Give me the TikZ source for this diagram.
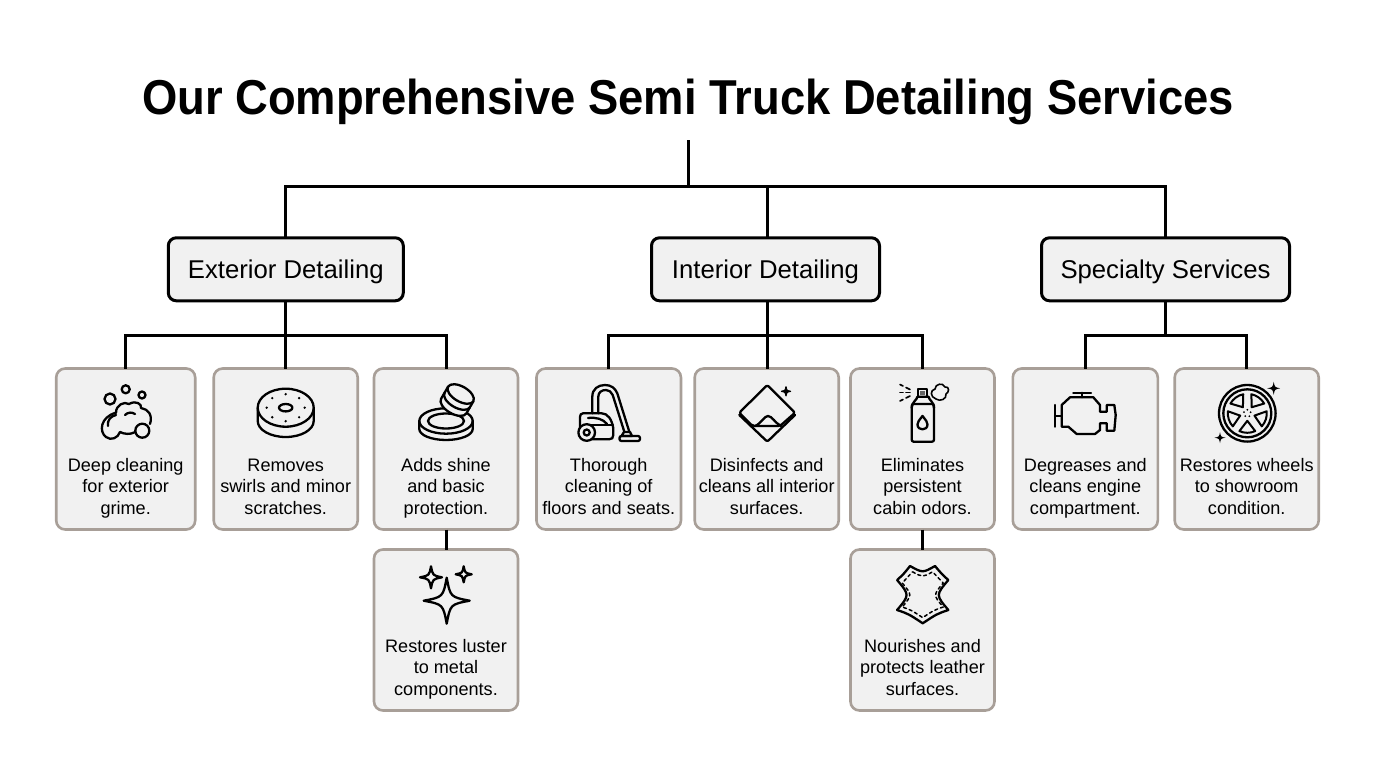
\documentclass[tikz,border=0pt]{standalone}
\usepackage{fontspec}
\setmainfont{Liberation Sans}
\definecolor{boxfill}{HTML}{F1F1F1}
\definecolor{leafline}{HTML}{A89F98}
\tikzstyle{head} = [rectangle, rounded corners=8pt, draw=black, line width=3pt, fill=boxfill, outer sep=0pt, minimum height=63pt, text height=22pt, text depth=4pt, font=\fontsize{25.7}{30}\selectfont]
\tikzstyle{leaf} = [rectangle, rounded corners=9pt, draw=leafline, line width=2.6pt, fill=boxfill, outer sep=0pt, minimum height=161pt]
\tikzstyle{txt} = [align=center, inner sep=0pt, anchor=base, font=\fontsize{18.1}{21.4}\selectfont]
\tikzstyle{conn} = [draw=black, line width=3pt]
\tikzstyle{icon} = [draw=black, line width=2.3pt, line join=round, line cap=round]
\tikzset{
	sparkle/.pic={\path[pic actions] (0,-1) .. controls (.16,-.16) .. (1,0) .. controls (.16,.16) .. (0,1) .. controls (-.16,.16) .. (-1,0) .. controls (-.16,-.16) .. (0,-1) -- cycle;},
	hide/.pic={\path[pic actions] (-12.7,-29) .. controls (0,-22) .. (12.3,-29) .. controls (19,-21) .. (25.6,-15) .. controls (13,0) .. (25.6,15) .. controls (14,19) .. (0,28.3) .. controls (-14,19) .. (-25.6,15) .. controls (-13,0) .. (-25.6,-15) .. controls (-19,-21) .. (-12.7,-29) -- cycle;}
}

\begin{document}
\begin{tikzpicture}[x=1pt, y=-1pt]

	\useasboundingbox (0,0) rectangle (1376,768);

	\node[inner sep=0pt, anchor=base, xscale=.926, font=\fontsize{49}{52}\bfseries\selectfont] (title) at (688,114) {Our Comprehensive Semi Truck Detailing Services};

	\node[head, minimum width=235pt] (exterior) at (285.8,269.3) {Exterior Detailing};
	\node[head, minimum width=228pt] (interior) at (765.5,269.3) {Interior Detailing};
	\node[head, minimum width=248pt] (specialty) at (1165.5,269.3) {Specialty Services};

	\node[leaf, minimum width=139pt] (deep) at (125.7,449) {};
	\node[leaf, minimum width=144pt] (swirls) at (285.7,449) {};
	\node[leaf, minimum width=144pt] (shine) at (446,449) {};
	\node[leaf, minimum width=144pt] (luster) at (446,630) {};
	\node[leaf, minimum width=144.5pt] (floors) at (608.7,449) {};
	\node[leaf, minimum width=144pt] (cloth) at (766.7,449) {};
	\node[leaf, minimum width=144pt] (odors) at (922.5,449) {};
	\node[leaf, minimum width=144pt] (leather) at (922.5,630) {};
	\node[leaf, minimum width=145pt] (engine) at (1085.3,449) {};
	\node[leaf, minimum width=144pt] (wheels) at (1246.7,449) {};

	\node[txt] (deeptxt) at (125.7,514.3) {Deep cleaning\\for exterior\\grime.};
	\node[txt] (swirlstxt) at (285.7,514.3) {Removes\\swirls and minor\\scratches.};
	\node[txt] (shinetxt) at (446,514.3) {Adds shine\\and basic\\protection.};
	\node[txt] (lustertxt) at (446,695.3) {Restores luster\\to metal\\components.};
	\node[txt] (floorstxt) at (608.7,514.3) {Thorough\\cleaning of\\floors and seats.};
	\node[txt] (clothtxt) at (766.7,514.3) {Disinfects and\\cleans all interior\\surfaces.};
	\node[txt] (odorstxt) at (922.5,514.3) {Eliminates\\persistent\\cabin odors.};
	\node[txt] (leathertxt) at (922.5,695.3) {Nourishes and\\protects leather\\surfaces.};
	\node[txt] (enginetxt) at (1085.3,514.3) {Degreases and\\cleans engine\\compartment.};
	\node[txt] (wheelstxt) at (1246.7,514.3) {Restores wheels\\to showroom\\condition.};

	\coordinate (root) at (688,140);
	\coordinate (rootbus) at (688,186);
	\coordinate (interiorbus) at (767.7,186);
	\coordinate (exteriorlow) at (285.8,335);
	\coordinate (interiorlow) at (767.7,335);
	\coordinate (specialtylow) at (1165.5,335);

	\draw[conn] (root) -- (rootbus);
	\draw[conn] (exterior.north) |- (rootbus) -| (specialty.north);
	\draw[conn] (interiorbus) -- (interiorbus |- interior.north);

	\draw[conn] (exterior.south) -- (exteriorlow);
	\draw[conn] (deep.north) |- (exteriorlow) -| (shine.north);
	\draw[conn] (exteriorlow) -- (exteriorlow |- swirls.north);
	\draw[conn] (shine.south) -- (luster.north);

	\draw[conn] (interiorlow |- interior.south) -- (interiorlow);
	\draw[conn] (floors.north) |- (interiorlow) -| (odors.north);
	\draw[conn] (interiorlow) -- (interiorlow |- cloth.north);
	\draw[conn] (odors.south) -- (leather.north);

	\draw[conn] (specialty.south) -- (specialtylow);
	\draw[conn] (engine.north) |- (specialtylow) -| (wheels.north);

	\draw[icon] (110,399) circle (5.5);
	\draw[icon] (125.7,389.3) circle (4);
	\draw[icon] (142,395) circle (3.5);
	\draw[icon] (142.3,430.7) circle (7);
	\draw[icon] (116,412.7) .. controls (116,405) and (124,401) .. (129,404) .. controls (136,400) and (142,404) .. (141,408) .. controls (148,409) and (153,415) .. (150,424);
	\draw[icon] (135.3,432) .. controls (130,435) and (124,434) .. (120,432) .. controls (118,438) and (111,441) .. (106,437) .. controls (99,432) and (100,417) .. (116,412.7);
	\draw[icon] (108,426) .. controls (107,420) and (111,416) .. (116,415);
	\draw[icon] (125,415) .. controls (128,412) and (132,412) .. (135,414);

	\draw[icon] (257.7,407.7) -- (257.7,421) arc[start angle=180, end angle=0, x radius=28, y radius=16] -- (313.7,407.7);
	\draw[icon, fill=boxfill] (285.7,407.7) ellipse (28 and 19);
	\draw[icon] (285.7,407.7) ellipse (6.7 and 3.7);
	\foreach \ang in {0,45,90,135,180,225,270,315}
		\fill (285.7,407.7) ++(\ang:19 and 13.5) circle (1.3);

	\draw[icon] (419.3,421) -- (419.3,429) arc[start angle=180, end angle=0, x radius=26.7, y radius=11] -- (472.7,421);
	\draw[icon] (446,421) ellipse (26.7 and 12.7);
	\draw[icon] (446,421) ellipse (18 and 7.5);
	\begin{scope}[shift={(460.7,394)}, rotate=-30]
		\draw[icon, fill=boxfill] (-14.6,0) -- (-14.6,14) arc[start angle=180, end angle=0, x radius=14.6, y radius=7.5] -- (14.6,0);
		\draw[icon] (-14.6,7) arc[start angle=180, end angle=0, x radius=14.6, y radius=7.5];
		\draw[icon, fill=boxfill] (0,0) ellipse (14.6 and 7.5);
	\end{scope}

	\pic[icon, fill=boxfill, scale=23] at (446.7,600.7) {sparkle};
	\pic[icon, scale=11] at (431,577.3) {sparkle};
	\pic[icon, scale=8] at (463.7,574.3) {sparkle};

	\draw[icon] (592.3,413.3) -- (592.3,396.7) .. controls (592.3,389) and (598,385) .. (605,385) .. controls (611,385) and (615,388) .. (617.3,393.3) -- (629.3,431.7);
	\draw[icon] (598.3,413.3) -- (598.3,396.7) .. controls (598.3,392) and (602,390) .. (606,390) .. controls (609,390) and (611.5,392) .. (612.7,395) -- (624.3,431.7);
	\draw[icon] (588,439.3) -- (609,439.3) .. controls (612,439.3) and (613.3,438) .. (613.3,435) -- (613.3,428.3) .. controls (612,420) and (608,413.3) .. (601.7,413.3) -- (583,413.3) .. controls (581,413.3) and (580,415) .. (580,417) -- (580,428);
	\draw[icon] (588,418) .. controls (596,417) and (603,419) .. (607,424);
	\draw[icon] (590,425) -- (613,425);
	\draw[icon, fill=boxfill] (586.7,432.5) circle (8.3);
	\draw[icon] (586.7,432.5) circle (3);
	\draw[icon] (624,432) -- (630,432) -- (632,436) -- (621.5,436) -- cycle;
	\draw[icon, rounded corners=2pt] (619.5,436) rectangle (640,441);

	\draw[icon, rounded corners=2pt] (739.3,412.7) -- (767.3,385) -- (795,412.7) -- (780,426) -- (752.5,426) -- cycle;
	\draw[icon, rounded corners=2pt] (739.3,415) -- (767.3,441.7) -- (795,415);
	\draw[icon] (755,426) .. controls (762,423) and (764,416) .. (768,416) .. controls (772,416) and (775,423) .. (781,426);
	\pic[icon, line width=1.3pt, fill=black, scale=4.5] at (786,391.3) {sparkle};

	\draw[icon, rounded corners=2pt] (911.7,441.7) rectangle (934,404);
	\draw[icon] (911.7,408) .. controls (911.7,402) and (917,400) .. (917.5,396.7) -- (928.5,396.7) .. controls (929,400) and (934,402) .. (934,408);
	\draw[icon] (918.3,389.3) rectangle (926.7,396.7);
	\fill[black!60] (920.3,391.3) rectangle (924.7,395);
	\draw[icon] (922.5,416) .. controls (926,420.5) and (927.5,422) .. (927.5,424.5) .. controls (927.5,431) and (917.5,431) .. (917.5,424.5) .. controls (917.5,422) and (919,420.5) .. (922.5,416) -- cycle;
	\draw[icon, line width=1.6pt] (900,384.5) -- (903,386) (906,387.5) -- (910,389.5);
	\draw[icon, line width=1.6pt] (900,392.5) -- (903,392.5) (906,392.5) -- (910,392.5);
	\draw[icon, line width=1.6pt] (900,401) -- (903,399.5) (906,398) -- (910,396);
	\draw[icon, line width=1.6pt] (936,399) .. controls (930,397) and (930,390) .. (935,389) .. controls (935,384) and (943,382) .. (945,387) .. controls (950,386) and (949,393) .. (946,394) .. controls (947,399) and (940,402) .. (936,399) -- cycle;

	\draw[icon] (1055,405) -- (1055,426.7);
	\draw[icon] (1055,415.7) -- (1061.7,415.7);
	\draw[icon] (1061.7,405) -- (1070,397.3) -- (1093.3,397.3) -- (1100,405) -- (1100,411.7) -- (1106.7,411.7) -- (1106.7,405) -- (1114.3,405) -- (1115.7,415) -- (1114.3,430.7) -- (1106.7,430.7) -- (1106.7,423.3) -- (1100,423.3) -- (1100,430) -- (1095,434) -- (1076.7,434) -- (1068.3,426.7) -- (1061.7,426.7) -- cycle;
	\draw[icon] (1073.3,392.7) -- (1091,392.7);
	\draw[icon] (1082.3,392.7) -- (1082.3,397.3);

	\draw[icon] (1247.3,413.3) circle (28.3);
	\draw[icon] (1247.3,413.3) circle (24);
	\begin{scope}[shift={(1247.3,413.3)}]
		\foreach \ang in {-126,-54,18,90,162}
			\draw[icon, line width=2pt] (\ang-24:19.5) arc[start angle=\ang-24, end angle=\ang+24, radius=19.5] -- (\ang:7.5) -- cycle;
		\foreach \ang in {-90,-18,54,126,198}
			\fill (\ang:3.5) circle (1);
	\end{scope}
	\pic[fill=black, scale=6.5] at (1273.7,388.3) {sparkle};
	\pic[fill=black, scale=5.5] at (1220,437.7) {sparkle};

	\pic[icon] at (922.7,595) {hide};
	\pic[icon, line width=1.5pt, dashed, scale=.8] at (922.7,595) {hide};

\end{tikzpicture}
\end{document}
